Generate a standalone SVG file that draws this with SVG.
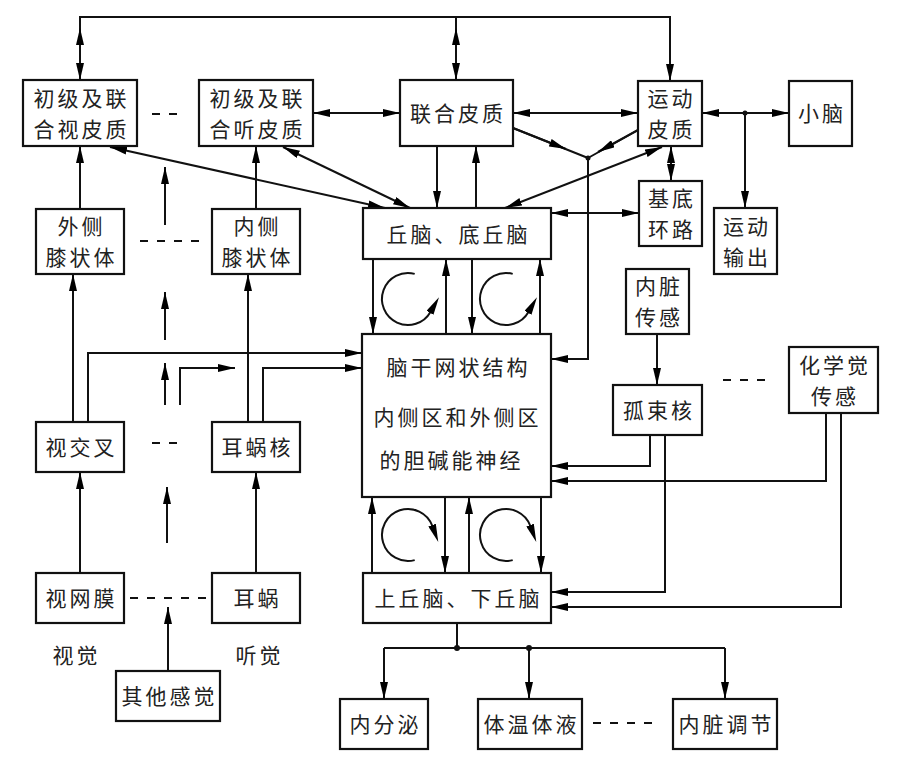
<svg xmlns="http://www.w3.org/2000/svg" width="908" height="764" viewBox="0 0 908 764">
<defs>
<marker id="a" viewBox="0 0 17 8" refX="17" refY="4" markerWidth="17" markerHeight="8" markerUnits="userSpaceOnUse" orient="auto-start-reverse"><path d="M0,0 L17,4 L0,8 z" fill="#000"/></marker>
<marker id="h" viewBox="0 0 18 8" refX="1" refY="4" markerWidth="18" markerHeight="8" markerUnits="userSpaceOnUse" orient="auto"><path d="M0,0 L18,4 L0,8 z" fill="#000"/></marker>
</defs>
<style>
.box rect{fill:#fff;stroke:#111;stroke-width:2.2}
text{font-family:"Noto Sans CJK SC","Noto Sans",sans-serif;font-size:21px;letter-spacing:3px;fill:#222;text-anchor:middle}
.c path,.c line{fill:none;stroke:#111;stroke-width:2}
.e{marker-end:url(#a)}
.d{marker-start:url(#a);marker-end:url(#a)}
.ar{marker-end:url(#h)}
.dash{stroke-dasharray:8,9}
</style>
<rect width="908" height="764" fill="#fff"/>
<g class="c" id="connectors">
<path d="M80,28 V17 H670 V81" class="e"/>
<path d="M80,28 V80" class="d"/>
<path d="M456,17 V28"/>
<path d="M456,28 V80" class="d"/>
<path d="M313,113 H400" class="d"/>
<path d="M513,113 H638" class="d"/>
<path d="M702,113 H789" class="d"/>
<path d="M745,113 V208" class="e"/>
<path d="M152,114 H178" class="dash"/>
<path d="M110,147 L385,208" class="d"/>
<path d="M283,147 L410,208" class="d"/>
<path d="M513,128 L588,158 M638,130 L588,158"/>
<path d="M513,128 L566,149" class="e"/>
<path d="M638,130 L598,152" class="e"/>
<path d="M588,158 V359 H551" class="e"/>
<path d="M505,208 L662,147" class="d"/>
<path d="M671,146 V181" class="d"/>
<path d="M551,213 H639" class="d"/>
<path d="M437,146 V208" class="e"/>
<path d="M476,208 V146" class="e"/>
<path d="M80,209 V146" class="e"/>
<path d="M256,209 V146" class="e"/>
<path d="M165,225 V167" class="e"/>
<path d="M140,241 H206" class="dash"/>
<path d="M373,259 V334" class="e"/>
<path d="M446,334 V259" class="e"/>
<path d="M472,259 V334" class="e"/>
<path d="M540,334 V259" class="e"/>
<path d="M414.7,273.9 A26,26 0 1 0 430.5,312" class="ar"/>
<path d="M512.7,273.9 A26,26 0 1 0 528.5,312" class="ar"/>
<path d="M73,422 V274" class="e"/>
<path d="M88,422 V353 H362" class="e"/>
<path d="M248,422 V274" class="e"/>
<path d="M263,422 V368 H362" class="e"/>
<path d="M180,405 V368 H235" class="e"/>
<path d="M165,340 V292" class="e"/>
<path d="M165,405 V363" class="e"/>
<path d="M152,443 H178" class="dash"/>
<path d="M80,573 V472" class="e"/>
<path d="M167,543 V487" class="e"/>
<path d="M256,573 V472" class="e"/>
<path d="M130,598 H212" class="dash"/>
<path d="M168,671 V607" class="e"/>
<path d="M657,334 V385" class="e"/>
<path d="M723,380 H771" class="dash"/>
<path d="M650,435 V466 H551" class="e"/>
<path d="M826,413 V481 H551" class="e"/>
<path d="M665,435 V592 H551" class="e"/>
<path d="M841,413 V607 H551" class="e"/>
<path d="M372,573 V497" class="e"/>
<path d="M445,497 V573" class="e"/>
<path d="M469,573 V497" class="e"/>
<path d="M541,497 V573" class="e"/>
<path d="M414.7,560.1 A26,26 0 1 1 432.4,526" class="ar"/>
<path d="M512.7,560.1 A26,26 0 1 1 530.4,526" class="ar"/>
<path d="M457,623 V648"/>
<path d="M384,648 H725"/>
<path d="M384,648 V699" class="e"/>
<path d="M529,648 V699" class="e"/>
<path d="M725,648 V699" class="e"/>
<path d="M593,723 H660" class="dash"/>
<circle cx="588" cy="158" r="2.5" fill="#111"/>
<circle cx="745" cy="113" r="2.5" fill="#111"/>
<circle cx="457" cy="648" r="3" fill="#111"/>
<circle cx="529" cy="648" r="3" fill="#111"/>
</g>
<g class="box" id="n1"><rect x="23" y="80" width="114" height="66"/><text x="81.5" y="105.5">初级及联</text><text x="81.5" y="136.5">合视皮质</text></g>
<g class="box" id="n2"><rect x="199" y="80" width="114" height="66"/><text x="257.5" y="105.5">初级及联</text><text x="257.5" y="136.5">合听皮质</text></g>
<g class="box" id="n3"><rect x="400" y="80" width="113" height="66"/><text x="458" y="121">联合皮质</text></g>
<g class="box" id="n4"><rect x="638" y="81" width="64" height="65"/><text x="671.5" y="106">运动</text><text x="671.5" y="137">皮质</text></g>
<g class="box" id="n5"><rect x="789" y="81" width="63" height="65"/><text x="822" y="121">小脑</text></g>
<g class="box" id="n6"><rect x="639" y="181" width="63" height="65"/><text x="672" y="206">基底</text><text x="672" y="237">环路</text></g>
<g class="box" id="n7"><rect x="714" y="208" width="63" height="66"/><text x="747" y="233.5">运动</text><text x="747" y="264.5">输出</text></g>
<g class="box" id="n8"><rect x="363" y="208" width="188" height="51"/><text x="458.5" y="241.5">丘脑、底丘脑</text></g>
<g class="box" id="n9"><rect x="36" y="209" width="88" height="65"/><text x="81.5" y="234">外侧</text><text x="81.5" y="265">膝状体</text></g>
<g class="box" id="n10"><rect x="212" y="209" width="88" height="65"/><text x="257.5" y="234">内侧</text><text x="257.5" y="265">膝状体</text></g>
<g class="box" id="n11"><rect x="362" y="334" width="189" height="163"/><text x="458.5" y="375">脑干网状结构</text><text x="457.5" y="425">内侧区和外侧区</text><text x="451.5" y="468">的胆碱能神经</text></g>
<g class="box" id="n12"><rect x="626" y="269" width="63" height="65"/><text x="659" y="294">内脏</text><text x="659" y="325">传感</text></g>
<g class="box" id="n13"><rect x="613" y="385" width="89" height="50"/><text x="659" y="418">孤束核</text></g>
<g class="box" id="n14"><rect x="789" y="347" width="89" height="66"/><text x="835" y="372.5">化学觉</text><text x="835" y="403.5">传感</text></g>
<g class="box" id="n15"><rect x="36" y="422" width="88" height="50"/><text x="81.5" y="455">视交叉</text></g>
<g class="box" id="n16"><rect x="212" y="422" width="88" height="50"/><text x="257.5" y="455">耳蜗核</text></g>
<g class="box" id="n17"><rect x="36" y="573" width="88" height="50"/><text x="81.5" y="606">视网膜</text></g>
<g class="box" id="n18"><rect x="212" y="573" width="88" height="50"/><text x="257.5" y="606">耳蜗</text></g>
<g class="box" id="n19"><rect x="116" y="671" width="104" height="50"/><text x="169.5" y="704">其他感觉</text></g>
<g class="box" id="n20"><rect x="363" y="573" width="188" height="50"/><text x="458.5" y="606">上丘脑、下丘脑</text></g>
<g class="box" id="n21"><rect x="340" y="699" width="88" height="50"/><text x="385.5" y="732">内分泌</text></g>
<g class="box" id="n22"><rect x="478" y="699" width="104" height="50"/><text x="531.5" y="732">体温体液</text></g>
<g class="box" id="n23"><rect x="673" y="699" width="104" height="50"/><text x="726.5" y="732">内脏调节</text></g>
<g id="labels"><text x="76.5" y="663">视觉</text><text x="259.5" y="663">听觉</text></g>
</svg>
